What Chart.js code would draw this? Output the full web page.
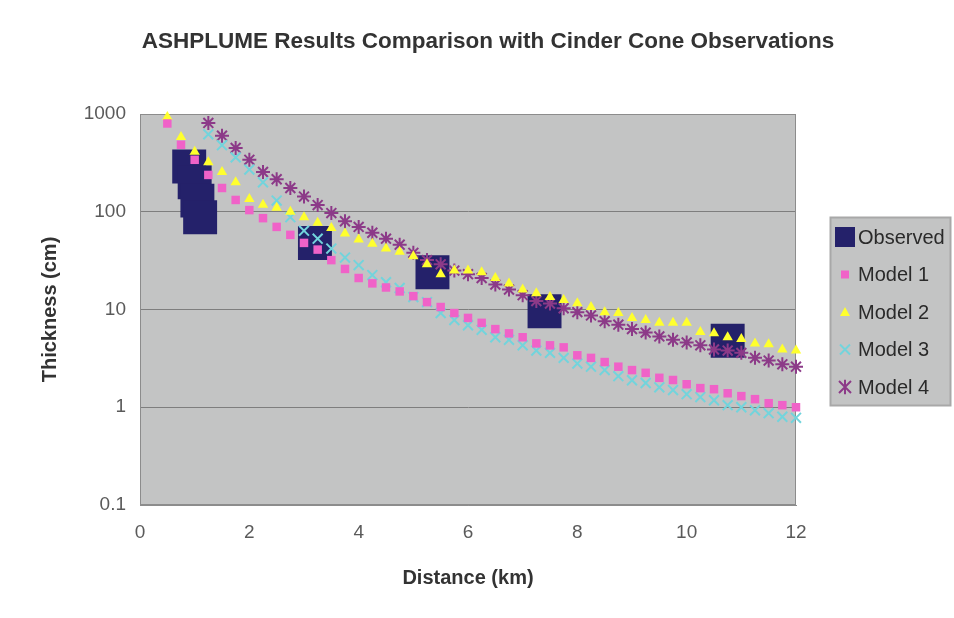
<!DOCTYPE html>
<html>
<head>
<meta charset="utf-8">
<title>ASHPLUME Results Comparison</title>
<script src="https://cdn.jsdelivr.net/npm/chart.js@4"></script>
<style>
    html, body { margin: 0; padding: 0; background: #fff; }
    #wrap { position: relative; width: 954px; height: 618px; }
    #title {
        position: absolute;
        left: 488px;
        top: 28px;
        transform: translateX(-50%);
        white-space: nowrap;
        font-family: "Liberation Sans", Arial, sans-serif;
        font-size: 22.5px;
        font-weight: bold;
        line-height: 26px;
        color: #333;
    }
</style>
</head>
<body>
<div id="wrap">
    <div id="title">ASHPLUME Results Comparison with Cinder Cone Observations</div>
    <canvas id="chart" width="954" height="618"></canvas>
</div>
<script>
// distances (km)
const obsDist = [0.9, 1.0, 1.05, 1.1, 3.2, 5.35, 7.4, 10.75];
const obsThick = [290, 200, 130, 88, 48, 24, 9.6, 4.8];

const distA = [0.5, 0.75, 1, 1.25, 1.5, 1.75, 2, 2.25, 2.5, 2.75, 3, 3.25, 3.5, 3.75, 4, 4.25,
    4.5, 4.75, 5, 5.25, 5.5, 5.75, 6, 6.25, 6.5, 6.75, 7, 7.25, 7.5, 7.75, 8, 8.25, 8.5, 8.75,
    9, 9.25, 9.5, 9.75, 10, 10.25, 10.5, 10.75, 11, 11.25, 11.5, 11.75, 12];
const distB = [1.25, 1.5, 1.75, 2, 2.25, 2.5, 2.75, 3, 3.25, 3.5, 3.75, 4, 4.25, 4.5, 4.75, 5,
    5.25, 5.5, 5.75, 6, 6.25, 6.5, 6.75, 7, 7.25, 7.5, 7.75, 8, 8.25, 8.5, 8.75, 9, 9.25, 9.5,
    9.75, 10, 10.25, 10.5, 10.75, 11, 11.25, 11.5, 11.75, 12];

const model1 = [800, 485, 340, 238, 175, 132, 104, 86, 70, 58, 48, 41, 32, 26, 21, 18.5, 16.8,
    15.3, 13.7, 11.9, 10.6, 9.2, 8.2, 7.3, 6.3, 5.7, 5.2, 4.5, 4.3, 4.1, 3.4, 3.2, 2.9, 2.6, 2.4,
    2.25, 2.0, 1.9, 1.72, 1.57, 1.53, 1.39, 1.3, 1.21, 1.1, 1.05, 1.0];
const model2 = [930, 580, 410, 320, 255, 200, 135, 118, 110, 100, 88, 77, 68, 60, 52, 47, 42,
    39, 35, 29, 23, 25, 25, 24, 21, 18.5, 16, 14.7, 13.4, 12.5, 11.6, 10.6, 9.4, 9.2, 8.2, 7.8,
    7.3, 7.3, 7.3, 5.9, 5.7, 5.2, 5.0, 4.5, 4.4, 3.9, 3.8];
const model3 = [620, 480, 360, 270, 200, 130, 88, 64, 53, 42, 34, 28.5, 22.5, 19, 16.6, 13.4,
    11.9, 9.2, 7.8, 6.9, 6.2, 5.2, 4.9, 4.3, 3.8, 3.6, 3.2, 2.8, 2.6, 2.4, 2.08, 1.89, 1.77, 1.6,
    1.5, 1.36, 1.27, 1.18, 1.05, 1.0, 0.93, 0.87, 0.8, 0.78];
const model4 = [810, 600, 450, 340, 255, 215, 175, 143, 117, 97, 80, 70, 61, 53, 46, 38, 32, 29,
    25, 23, 21, 18, 16, 14, 12.2, 11.5, 10.3, 9.4, 8.7, 7.6, 7.0, 6.3, 5.8, 5.3, 4.9, 4.6, 4.3,
    3.9, 3.8, 3.6, 3.2, 3.0, 2.75, 2.6];

const xTicks = [0, 2, 4, 6, 8, 10, 12];
const yTicks = [0.1, 1, 10, 100, 1000];

const toPoints = (xs, ys) => xs.map((x, i) => ({ x: x, y: ys[i] }));

Chart.defaults.font.family = '"Liberation Sans", Arial, sans-serif';

const series = [
    { label: 'Observed', data: toPoints(obsDist, obsThick), pointStyle: 'rect', pointRadius: 24,
      backgroundColor: '#24216a', borderColor: '#24216a', borderWidth: 0, order: 5,
      legend: { style: 'rect', size: 10 } },
    { label: 'Model 1', data: toPoints(distA, model1), pointStyle: 'rect', pointRadius: 6,
      backgroundColor: '#f062c8', borderColor: '#f062c8', borderWidth: 0, order: 1,
      legend: { style: 'rect', size: 4 } },
    { label: 'Model 2', data: toPoints(distA, model2), pointStyle: 'triangle', pointRadius: 6,
      backgroundColor: '#ffff2e', borderColor: '#ffff2e', borderWidth: 0, order: 2,
      legend: { style: 'triangle', size: 5 } },
    { label: 'Model 3', data: toPoints(distB, model3), pointStyle: 'crossRot', pointRadius: 7,
      backgroundColor: '#72d4dc', borderColor: '#72d4dc', borderWidth: 2, order: 3,
      legend: { style: 'crossRot', size: 5 } },
    { label: 'Model 4', data: toPoints(distB, model4), pointStyle: 'star', pointRadius: 7,
      backgroundColor: '#8c3a88', borderColor: '#8c3a88', borderWidth: 2, order: 4,
      legend: { style: 'star', size: 6 } }
];

// grey plot area + frame
const plotArea = {
    id: 'plotArea',
    beforeDraw(chart) {
        const { ctx, chartArea: a } = chart;
        ctx.save();
        ctx.fillStyle = '#c3c4c4';
        ctx.fillRect(a.left, a.top, a.width, a.height);
        ctx.restore();
    },
    beforeDatasetsDraw(chart) {
        const { ctx, chartArea: a } = chart;
        ctx.save();
        ctx.strokeStyle = '#8c8c8c';
        ctx.lineWidth = 1;
        ctx.strokeRect(a.left + 0.5, a.top + 0.5, a.width - 1, a.height - 1);
        ctx.restore();
    }
};

// boxed legend on the right, like the spreadsheet one
const boxLegend = {
    id: 'boxLegend',
    afterDraw(chart) {
        const ctx = chart.ctx;
        const bx = 830, by = 217, bw = 120, bh = 188;
        ctx.save();
        ctx.fillStyle = '#c3c4c4';
        ctx.fillRect(bx, by, bw, bh);
        ctx.strokeStyle = '#a8a8a8';
        ctx.strokeRect(bx + 0.5, by + 0.5, bw, bh);
        ctx.font = '20px "Liberation Sans", Arial, sans-serif';
        ctx.textBaseline = 'middle';
        series.forEach((s, i) => {
            const cy = by + 20 + i * 37.5;
            const cx = bx + 15;
            const r = s.legend.size;
            ctx.fillStyle = s.backgroundColor;
            ctx.strokeStyle = s.borderColor;
            ctx.lineWidth = 2;
            ctx.beginPath();
            if (s.legend.style === 'rect') {
                ctx.fillRect(cx - r, cy - r, 2 * r, 2 * r);
            } else if (s.legend.style === 'triangle') {
                ctx.moveTo(cx, cy - r);
                ctx.lineTo(cx + r, cy + r * 0.8);
                ctx.lineTo(cx - r, cy + r * 0.8);
                ctx.closePath();
                ctx.fill();
            } else {
                ctx.moveTo(cx - r, cy - r); ctx.lineTo(cx + r, cy + r);
                ctx.moveTo(cx - r, cy + r); ctx.lineTo(cx + r, cy - r);
                if (s.legend.style === 'star') {
                    ctx.moveTo(cx, cy - r * 1.2); ctx.lineTo(cx, cy + r * 1.2);
                }
                ctx.stroke();
            }
            ctx.fillStyle = '#2a2a2a';
            ctx.fillText(s.label, bx + 28, cy + 1);
        });
        ctx.restore();
    }
};

new Chart(document.getElementById('chart'), {
    type: 'scatter',
    data: {
        datasets: series.map(s => ({
            label: s.label,
            data: s.data,
            pointStyle: s.pointStyle,
            pointRadius: s.pointRadius,
            pointHoverRadius: s.pointRadius,
            backgroundColor: s.backgroundColor,
            borderColor: s.borderColor,
            borderWidth: s.borderWidth,
            order: s.order,
            showLine: false,
            clip: false
        }))
    },
    options: {
        responsive: false,
        animation: false,
        layout: { padding: { left: 20, right: 158, top: 114, bottom: 10 } },
        plugins: {
            legend: { display: false },
            tooltip: { enabled: false },
            title: { display: false }
        },
        scales: {
            x: {
                type: 'linear',
                min: 0,
                max: 12,
                afterBuildTicks: s => { s.ticks = xTicks.map(v => ({ value: v })); },
                afterFit: s => { s.height = 103; },
                grid: { display: false, drawTicks: false },
                border: { display: true, color: '#8c8c8c' },
                ticks: { color: '#5a5a5a', font: { size: 19 }, padding: 16 },
                title: {
                    display: true,
                    text: 'Distance (km)',
                    color: '#333',
                    font: { size: 20, weight: 'bold' },
                    padding: { top: 0, bottom: 18 }
                }
            },
            y: {
                type: 'logarithmic',
                min: 0.1,
                max: 1000,
                afterBuildTicks: s => { s.ticks = yTicks.map(v => ({ value: v })); },
                afterFit: s => { s.width = 120; },
                grid: { color: '#7e7e7e', drawTicks: false },
                border: { display: true, color: '#8c8c8c' },
                ticks: {
                    color: '#5a5a5a',
                    font: { size: 19 },
                    padding: 14,
                    callback: v => String(v)
                },
                title: {
                    display: true,
                    text: 'Thickness (cm)',
                    color: '#333',
                    font: { size: 20, weight: 'bold' },
                    padding: { top: 18, bottom: 0 }
                }
            }
        }
    },
    plugins: [plotArea, boxLegend]
});
</script>
</body>
</html>
